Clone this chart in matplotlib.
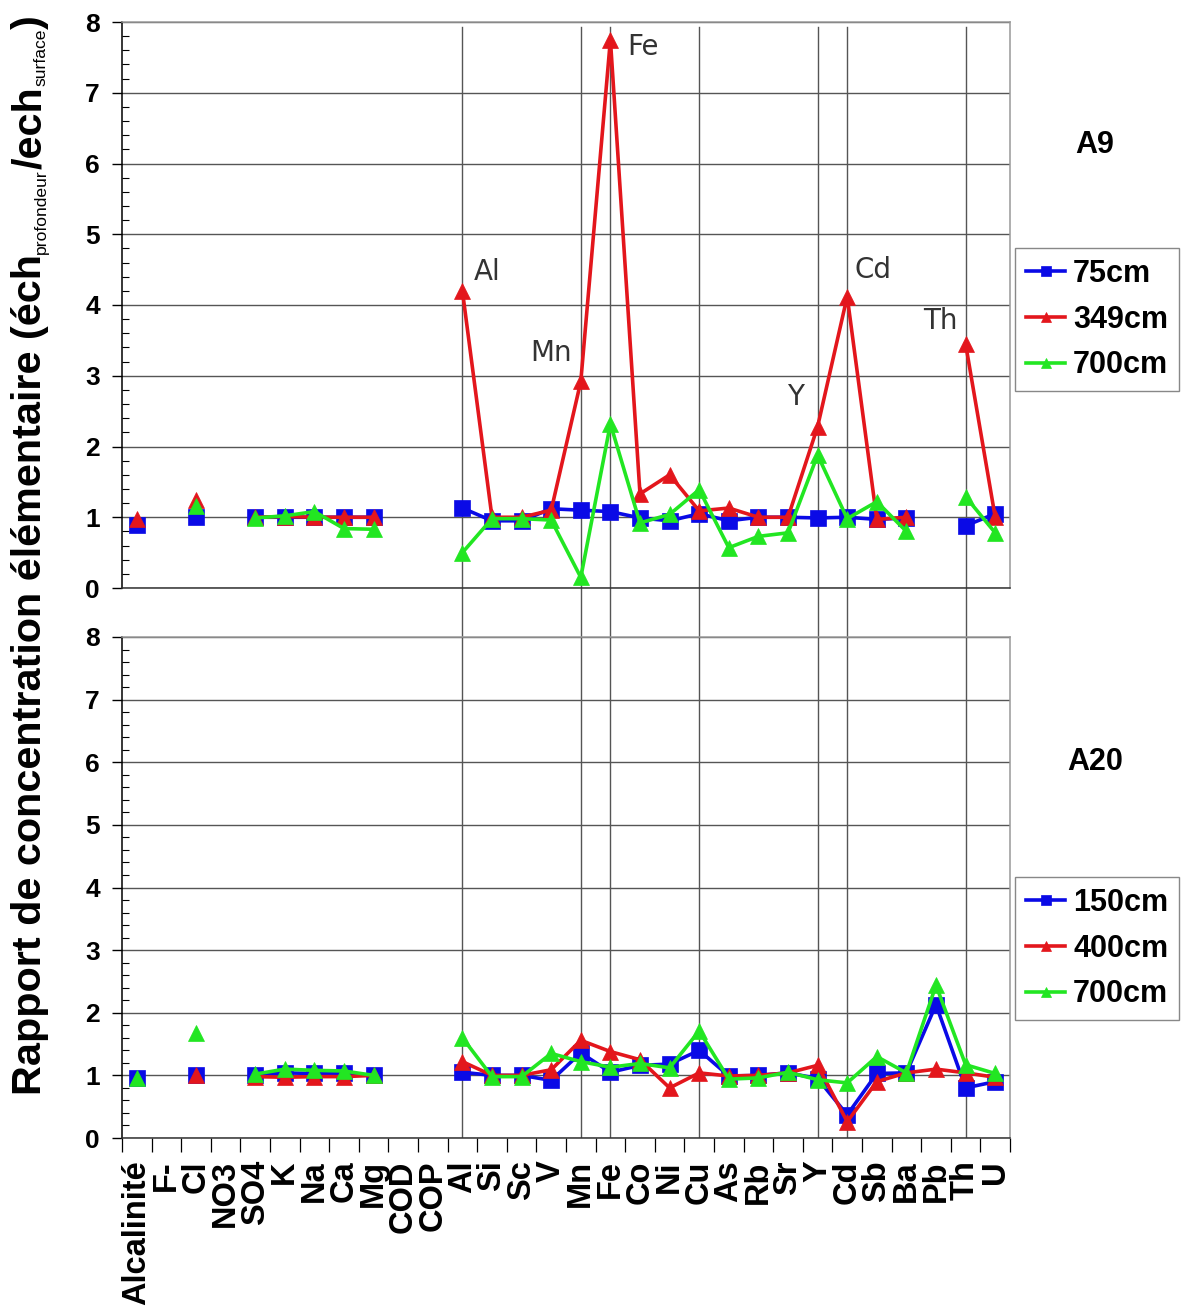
import numpy as np
import matplotlib
matplotlib.use('Agg')
import matplotlib.pyplot as plt
from matplotlib.ticker import MultipleLocator, FixedLocator

categories = ['Alcalinité', 'F-', 'Cl', 'NO3', 'SO4', 'K', 'Na', 'Ca', 'Mg', 'COD', 'COP',
              'Al', 'Si', 'Sc', 'V', 'Mn', 'Fe', 'Co', 'Ni', 'Cu', 'As', 'Rb', 'Sr', 'Y',
              'Cd', 'Sb', 'Ba', 'Pb', 'Th', 'U']
N = np.nan
# A9 profile
a9_75cm = [0.89, N, 1.00, N, 1.00, 1.00, 1.00, 1.00, 1.00, N, N, 1.13, 0.95, 0.95, 1.12, 1.10,
           1.08, 0.99, 0.95, 1.05, 0.95, 1.00, 1.00, 0.99, 1.00, 0.97, 0.99, N, 0.88, 1.05]
a9_349cm = [0.98, N, 1.25, N, 1.00, 1.01, 1.00, 1.00, 1.00, N, N, 4.20, 1.00, 1.00, 1.10, 2.92,
            7.75, 1.33, 1.60, 1.09, 1.13, 1.00, 1.00, 2.28, 4.12, 0.97, 1.00, N, 3.45, 1.00]
a9_700cm = [N, N, 1.16, N, 0.99, 1.02, 1.08, 0.84, 0.83, N, N, 0.50, 0.98, 0.98, 0.96, 0.15,
            2.32, 0.92, 1.04, 1.39, 0.57, 0.73, 0.78, 1.88, 0.98, 1.22, 0.80, N, 1.29, 0.78]
# A20 profile
a20_150cm = [0.96, N, 1.00, N, 1.01, 1.04, 1.03, 1.03, 1.00, N, N, 1.05, 1.00, 1.00, 0.92, 1.36,
             1.05, 1.16, 1.18, 1.40, 0.99, 1.00, 1.04, 0.95, 0.37, 1.03, 1.04, 2.13, 0.80, 0.90]
a20_400cm = [N, N, 1.00, N, 0.98, 0.97, 0.98, 0.98, 1.00, N, N, 1.22, 1.00, 1.00, 1.09, 1.56,
             1.38, 1.25, 0.80, 1.04, 0.99, 1.00, 1.04, 1.16, 0.26, 0.90, 1.04, 1.10, 1.04, 0.97]
a20_700cm = [0.96, N, 1.67, N, 1.02, 1.10, 1.08, 1.07, 1.00, N, N, 1.60, 0.98, 0.98, 1.35, 1.22,
             1.13, 1.19, 1.12, 1.71, 0.94, 0.96, 1.05, 0.93, 0.88, 1.30, 1.04, 2.44, 1.17, 1.03]

a9_series = [('75cm', a9_75cm), ('349cm', a9_349cm), ('700cm', a9_700cm)]
a20_series = [('150cm', a20_150cm), ('400cm', a20_400cm), ('700cm', a20_700cm)]
peak_labels = ['Al', 'Mn', 'Fe', 'Y', 'Cd', 'Th']
peak_label_xy = [(11.83, 4.47), (13.99, 3.32), (17.1, 7.65), (22.24, 2.70), (24.87, 4.49), (27.14, 3.77)]
vline_elements = ['Al', 'Mn', 'Fe', 'Cu', 'Y', 'Cd', 'Th']

colors = ['#0A0AE6', '#E3161C', '#22E622']
markers = ['s', '^', '^']
msizes = [11, 12, 12]

W, H = 1184, 1311
fig = plt.figure(figsize=(W / 100, H / 100), dpi=100)
plt.rcParams['font.family'] = ['Liberation Sans', 'DejaVu Sans']


def fx(px):
    return px / W


def fy(py):
    return 1 - py / H


ax1 = fig.add_axes([fx(122), fy(588), fx(1010) - fx(122), fy(22) - fy(588)])
ax2 = fig.add_axes([fx(122), fy(1138), fx(1010) - fx(122), fy(637) - fy(1138)])

x = np.arange(len(categories))
for ax, series in ((ax1, a9_series), (ax2, a20_series)):
    for (lab, vals), c, m, ms in zip(series, colors, markers, msizes):
        ax.plot(x, np.array(vals, dtype=float), color=c, marker=m, markersize=ms, lw=2.6,
                label=lab, zorder=3, markeredgewidth=0.5, markeredgecolor=c)
    ax.set_xlim(-0.5, len(categories) - 0.5)
    ax.set_ylim(0, 8)
    ax.yaxis.set_major_locator(MultipleLocator(1))
    ax.yaxis.set_minor_locator(MultipleLocator(0.2))
    ax.tick_params(axis='y', which='major', direction='out', length=7, width=1, labelsize=19, pad=9)
    ax.tick_params(axis='y', which='minor', direction='in', length=5, width=0.8)
    for t in ax.get_yticklabels():
        t.set_fontweight('bold')
    ax.yaxis.grid(True, which='major', color='#555555', lw=1.0)
    ax.set_axisbelow(True)
    ax.spines['left'].set_color('black')
    ax.spines['bottom'].set_color('#333333')
    ax.spines['top'].set_color('#999999')
    ax.spines['right'].set_color('#999999')
    for s in ax.spines.values():
        s.set_linewidth(1.1)
    ax.set_xticks(x)
    ax.xaxis.set_minor_locator(FixedLocator(np.arange(-0.5, len(categories), 1.0)))

ax1.tick_params(axis='x', which='both', length=0, labelbottom=False)
ax2.set_xticklabels(categories, rotation=90, fontsize=23.5, fontweight='bold')
ax2.tick_params(axis='x', which='major', length=0, pad=16)
ax2.tick_params(axis='x', which='minor', direction='out', length=10, width=0.9)

# vertical reference lines through both panels
h1 = 588 - 22
for el in vline_elements:
    xi = categories.index(el)
    ax1.axvline(xi, ymin=-(637 - 588) / h1, ymax=(588 - 27) / h1, color='#555555', lw=1.0,
                clip_on=False, zorder=2)
    ax2.axvline(xi, color='#555555', lw=1.0, zorder=2)

for lab, (px, py) in zip(peak_labels, peak_label_xy):
    ax1.text(px, py, lab, fontsize=20, color='#333333', ha='center', va='center',
             family=['DejaVu Sans'], zorder=5)

fig.text(fx(1095), fy(145), 'A9', fontsize=22, fontweight='bold', ha='center', va='center')
fig.text(fx(1095), fy(762), 'A20', fontsize=22, fontweight='bold', ha='center', va='center')

for ax, ytop in ((ax1, 248), (ax2, 877)):
    handles, labels = ax.get_legend_handles_labels()
    leg = fig.legend(handles, labels, loc='upper left',
                     bbox_to_anchor=(fx(1015), fy(ytop)), borderaxespad=0,
                     prop={'size': 22, 'weight': 'bold'}, fancybox=False,
                     edgecolor='#888888', framealpha=1, handlelength=1.3,
                     handletextpad=0.25, labelspacing=0.52, borderpad=0.35,
                     markerscale=0.65)
    leg.get_frame().set_linewidth(1.0)

# y label built of pieces (with small subscripts)
pieces = [('Rapport de concentration élémentaire (éch', 26, 'bold', 0),
          ('profondeur', 11, 'normal', 5),
          ('/ech', 26, 'bold', 0),
          ('surface', 11, 'normal', 5),
          (')', 26, 'bold', 0)]


def build_label(scale):
    renderer = fig.canvas.get_renderer()
    texts = []
    ycur = H - 1095
    for s, size, wt, dx in pieces:
        t = fig.text((41 + dx) / W, ycur / H, s, fontsize=size * scale, fontweight=wt,
                     rotation=90, rotation_mode='anchor', ha='left', va='baseline')
        ext = t.get_window_extent(renderer=renderer)
        ycur += ext.height
        texts.append(t)
    return texts, ycur


texts, yend = build_label(1.0)
total = yend - (H - 1095)
for t in texts:
    t.remove()
scale = (1095 - 15) / total
build_label(scale)

fig.savefig('out.png', dpi=100)
